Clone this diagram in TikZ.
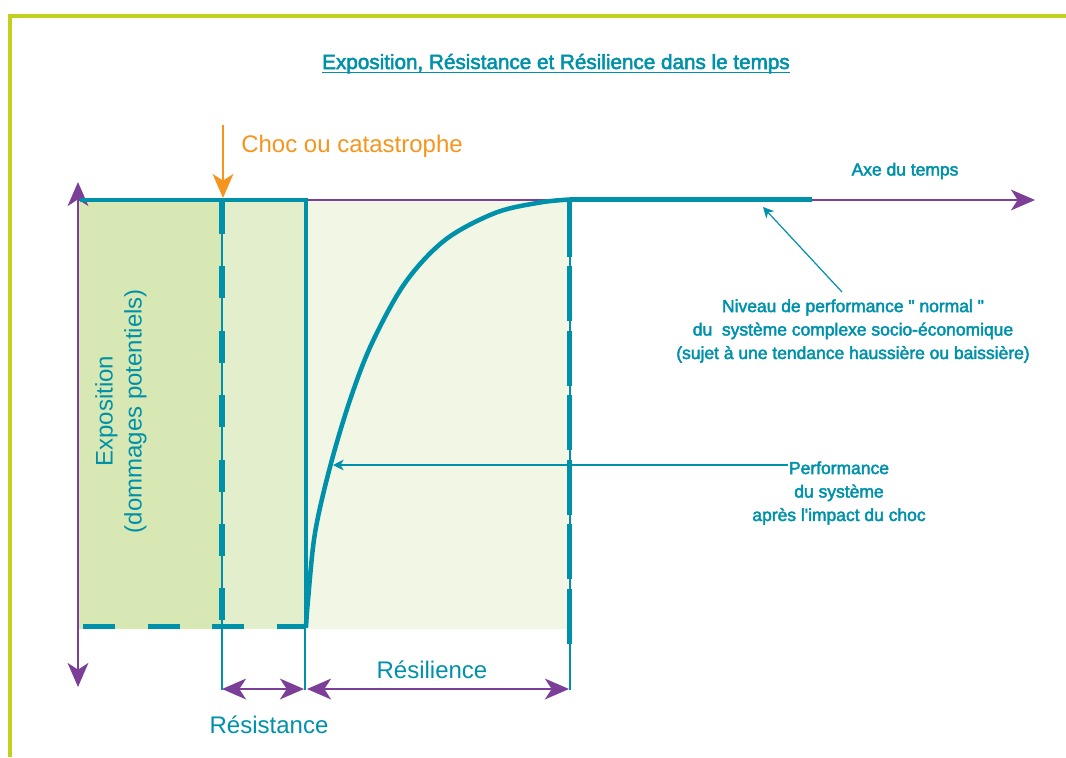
\documentclass[tikz,border=0pt]{standalone}
\usepackage{fontspec}
\setmainfont{Liberation Sans}
\newfontfamily\medfont[FakeBold=2.5]{Liberation Sans}
\usetikzlibrary{arrows.meta,calc}
\definecolor{tealc}{RGB}{0,145,170}
\definecolor{purp}{RGB}{123,63,152}
\definecolor{orng}{RGB}{247,148,29}
\definecolor{framec}{RGB}{194,208,30}
\definecolor{fillA}{RGB}{216,232,180}
\definecolor{fillB}{RGB}{226,238,204}
\definecolor{fillC}{RGB}{242,247,229}
\tikzset{
  purpaxis/.style={draw=purp, line width=1.9pt},
  bigtips/.style={{Stealth[length=18pt,width=15.5pt,inset=5pt]}-{Stealth[length=18pt,width=15.5pt,inset=5pt]}},
  bigtip/.style={-{Stealth[length=18pt,width=15.5pt,inset=5pt]}},
  smalltip/.style={-{Stealth[length=8pt,width=8pt,inset=2.4pt]}},
  tealthick/.style={draw=tealc, line width=3.4pt},
  tealthin/.style={draw=tealc, line width=1.1pt},
  tealdash/.style={draw=tealc, line width=4.1pt},
  medlabel/.style={text=tealc, font=\medfont\fontsize{13.1pt}{17.6pt}\selectfont, align=center, inner sep=0pt},
  biglabel/.style={font=\fontsize{18pt}{21.75pt}\selectfont, inner sep=0pt},
}
\begin{document}
\begin{tikzpicture}[x=0.75pt,y=-0.75pt]
\useasboundingbox (0,0) rectangle (1066,757);
% frame
\draw[framec, line width=2.6pt] (10,757) -- (10,16) -- (1066,16);
% fills
\fill[fillA] (78,200) rectangle (222,629);
\fill[fillB] (222,200) rectangle (305,629);
\fill[fillC] (305,200) rectangle (568,629);
% coordinates
\coordinate (axtop) at (78,182);
\coordinate (axbot) at (78,687);
\coordinate (axleft) at (78,200);
\coordinate (axright) at (1035,200);
\coordinate (shockA) at (222,200);
\coordinate (shockAbot) at (222,690);
\coordinate (shockB) at (305,628);
\coordinate (shockBbot) at (305,690);
\coordinate (recov) at (570,200);
\coordinate (recovbot) at (570,690);
% purple axes
\draw[purpaxis, bigtips] (axbot) -- (axtop);
\draw[purpaxis, bigtip] (axleft) -- (axright);
% thin teal verticals
\draw[tealthin] (shockA) -- (shockAbot);
\draw[tealthin] (shockB) -- (shockBbot);
\draw[tealthin] (recov) -- (recovbot);
% thick dashes
\draw[tealdash, dash pattern=on 24pt off 24.3pt] (222,202) -- (222,622);
\draw[tealdash, dash pattern=on 41.25pt off 7.1pt] (569.5,202) -- (569.5,644);
\draw[tealthick, dash pattern=on 24pt off 24.4pt] (83,626.5) -- (305,626.5);
% thick teal outline
\draw[tealthick] (80,200) -- (306,200) -- (306,628);
% performance curve
\draw[tealthick] plot[smooth, tension=0.55] coordinates {(306,627) (308,600) (315,533) (330,467) (350,400) (372,343) (405,283) (445,240) (495,213) (540,202.5) (570,199.5)} -- (812,199.5);
% shock arrow
\coordinate (chocstart) at (223,125);
\coordinate (choctip) at (223,198);
\draw[orng, line width=2pt, bigtip] (chocstart) -- (choctip);
\node[biglabel, text=orng, anchor=base west] (choc) at (241,152) {Choc ou catastrophe};
% title
\node[text=tealc, font=\medfont\fontsize{15.5pt}{18pt}\selectfont, inner sep=0pt, anchor=base] (title) at (556,69) {Exposition, Résistance et Résilience dans le temps};
\draw[tealc, line width=1.1pt] ($(title.base west)+(0,3.5)$) -- ($(title.base east)+(0,3.5)$);
% labels right
\node[medlabel] (axe) at (905,171) {Axe du temps};
\node[medlabel] (niveau) at (853,331) {Niveau de performance " normal "\\du\ \ système complexe socio-économique\\(sujet à une tendance haussière ou baissière)};
\coordinate (nivstart) at (842,292);
\coordinate (nivtip) at (763,207);
\draw[tealthin, line width=0.9pt, smalltip] (nivstart) -- (nivtip);
\node[medlabel] (perf) at (839,493) {Performance\\du système\\après l'impact du choc};
\coordinate (perfstart) at (788,465);
\coordinate (perftip) at (333,465);
\draw[tealthin, line width=1.4pt, smalltip] (perfstart) -- (perftip);
% exposition
\node[biglabel, text=tealc, rotate=90, align=center] (expo) at (121,411) {Exposition\\(dommages potentiels)};
% bottom dimension arrows
\coordinate (resA) at (222,689);
\coordinate (resB) at (304,689);
\coordinate (resilA) at (307,689);
\coordinate (resilB) at (569,689);
\draw[purpaxis, bigtips] (resA) -- (resB);
\draw[purpaxis, bigtips] (resilA) -- (resilB);
\node[biglabel, text=tealc, anchor=base] (resil) at (432,678) {Résilience};
\node[biglabel, text=tealc, anchor=base] (resist) at (269,733) {Résistance};
\end{tikzpicture}
\end{document}
